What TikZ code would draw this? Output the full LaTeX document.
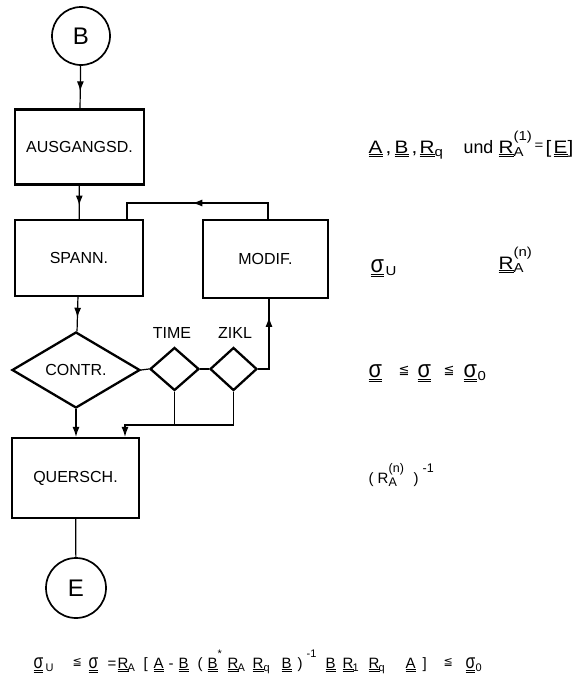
\documentclass[tikz,border=0pt]{standalone}
\usepackage{fontspec}
\usepackage{graphicx}
\setmainfont{Liberation Sans}
\newfontfamily\dv{DejaVu Sans}
\newfontfamily\eqf[FakeStretch=1.15]{Liberation Sans}
\usetikzlibrary{shapes.geometric,arrows.meta,decorations.markings}
\newcommand\du[1]{\leavevmode\vtop{\hbox{#1}\kern1.3pt\hrule height .7pt\kern1.3pt\hrule height .7pt}}
\def\subsz{13}
\newcommand\smallf{\fontsize{\subsz}{\subsz}\selectfont}
\newcommand\lo[1]{\raisebox{-0.22em}{\smallf #1}}
\newcommand\hi[1]{\raisebox{0.7em}{\smallf #1}}
\newcommand\lohi[2]{\raisebox{-0.22em}{\smallf\rlap{#1}}\raisebox{0.72em}{\smallf #2}}
\newcommand\leqq{\raisebox{0.15em}{\dv\smallf ≦}}
\newcommand\sig{\scalebox{1.05}[1.35]{σ}}
\newcommand\at[2]{\rlap{\hskip #1pt\relax #2}}
\tikzset{
  box/.style={draw, line width=2.3pt, rectangle, inner sep=0pt, font=\fontsize{16}{19}\selectfont},
  conn/.style={draw, circle, line width=1.7pt, inner sep=0pt, minimum size=58pt, font=\fontsize{24}{28}\selectfont},
  dia/.style={draw, diamond, line width=2.3pt, inner sep=0pt, font=\fontsize{16}{19}\selectfont},
  line/.style={line width=1.2pt},
  tip/.style={-{Latex[length=10pt,width=7pt]}},
  midarrow/.style={postaction={decorate,decoration={markings,mark=at position #1 with {\arrow{Latex[length=10pt,width=7pt]}}}}},
  midarrow/.default=0.5,
  lbl/.style={font=\fontsize{16}{19}\selectfont, inner sep=0pt},
  eq/.style={anchor=base west, inner sep=0pt, font=\eqf\fontsize{18}{20}\selectfont\def\subsz{13}},
  eqm/.style={anchor=base west, inner sep=0pt, font=\fontsize{15}{18}\selectfont\def\subsz{12.5}},
  eqs/.style={anchor=base west, inner sep=0pt, font=\fontsize{15}{18}\selectfont\def\subsz{11}}
}
\begin{document}
\begin{tikzpicture}[x=1pt,y=-1pt]
\useasboundingbox (0,0) rectangle (575,688);
% nodes
\node[conn] (B) at (81,36) {B};
\node[box, minimum width=129pt, minimum height=75pt] (aus) at (79.5,147) {AUSGANGSD.};
\node[box, minimum width=128pt, minimum height=76pt] (spann) at (79,258) {SPANN.};
\node[box, minimum width=125pt, minimum height=78pt] (modif) at (265.5,259) {MODIF.};
\node[dia, minimum width=128pt, minimum height=76pt] (contr) at (76,370) {CONTR.};
\node[dia, minimum width=49pt, minimum height=43pt] (time) at (174.5,369) {};
\node[dia, minimum width=47pt, minimum height=43pt] (zikl) at (233.5,369) {};
\node[box, minimum width=127pt, minimum height=80pt] (quer) at (75.5,478) {QUERSCH.};
\node[conn, minimum size=60pt] (E) at (76,588) {E};
\node[lbl] (tlab) at (172,333) {TIME};
\node[lbl] (zlab) at (235,333) {ZIKL};
% helper coordinates
\coordinate (fbR) at (268,203);
\coordinate (fbL) at (127,203);
\coordinate (zR) at (269,369);
\coordinate (jL) at (125,425);
\coordinate (jR) at (233.5,425);
% connectors
\draw[line, midarrow=0.6] (B) -- (aus);
\draw[line, midarrow=0.6] (aus) -- (spann);
\draw[line, midarrow=0.53] (modif.north -| fbR) -- (fbR) -- (fbL) -- (spann.north -| fbL);
\draw[line, midarrow=0.6] (spann) -- (contr);
\draw[line] (contr.east) -- (time.west);
\draw[line] (time.east) -- (zikl.west);
\draw[line, midarrow=0.78] (zikl.east) -- (zR) -- (modif.south -| zR);
\draw[line] (time.south) -- (time.south |- jL);
\draw[line, tip] (zikl.south) -- (jR) -- (jL) -- (quer.north -| jL);
\draw[line, tip] (contr.south) -- (quer.north -| contr.south);
\draw[line] (quer) -- (E);
% formulas
\node[eq] (f1) at (368,153) {\at{0}{\du{A}}\at{17}{,}\at{26}{\du{B}}\at{43}{,}\at{51}{\du{R}}\at{66}{\lo{q}}\at{95}{\scalebox{0.86}[1]{und}}\at{130}{\du{R}}\at{145}{\lohi{A}{(1)}}\at{166}{\raisebox{0.2em}{\smallf =}}\at{177}{[}\at{185}{\du{E}}\at{199}{]}\hskip205pt};
\node[eq] (f2) at (370,272) {\at{0}{\du{\sig}}\at{15}{\lo{U}}\hskip27pt};
\node[eq] (f3) at (498,269) {\at{0}{\du{R}}\at{15}{\lohi{A}{(n)}}\hskip42pt};
\node[eq] (f4) at (368,377) {\at{0}{\du{\sig}}\at{30}{\leqq}\at{49}{\du{\sig}}\at{75}{\leqq}\at{95}{\du{\sig}}\at{109}{\lo{0}}\hskip117pt};
\node[eqm] (f5) at (368,483) {\at{0}{(}\at{9}{R}\at{20}{\lohi{A}{(n)}}\at{45}{)}\at{54}{\hi{-1}}\hskip70pt};
\node[eqs] (f6) at (33,668) {\at{0}{\du{\sig}}\at{12}{\lo{U}}\at{39}{\leqq}\at{55}{\du{\sig}}\at{74}{=}\at{84}{\du{R}}\at{94}{\lo{A}}\at{110}{[}\at{120}{\du{A}}\at{135}{-}\at{145}{\du{B}}\at{164}{(}\at{174}{\du{B}}\at{184}{\hi{*}}\at{194}{\du{R}}\at{204}{\lo{A}}\at{219}{\du{R}}\at{230}{\lo{q}}\at{248}{\du{B}}\at{264}{)}\at{273}{\hi{-1}}\at{292}{\du{B}}\at{309}{\du{R}}\at{319}{\lo{1}}\at{335}{\du{R}}\at{345}{\lo{q}}\at{372}{\du{A}}\at{389}{]}\at{410}{\leqq}\at{432}{\du{\sig}}\at{442}{\lo{0}}\hskip450pt};
\end{tikzpicture}
\end{document}
